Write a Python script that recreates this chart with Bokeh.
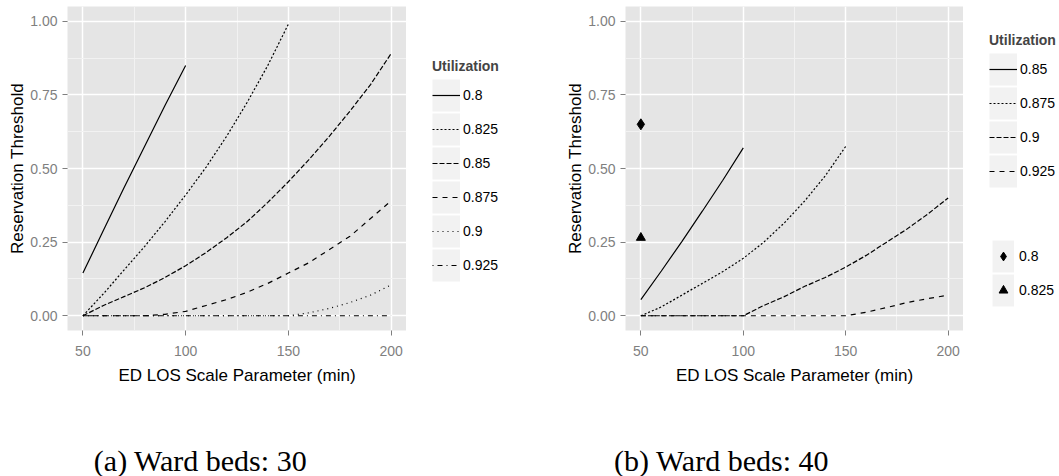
from bokeh.plotting import figure
from bokeh.layouts import row, column
from bokeh.models import Range1d, FixedTicker, Legend, LegendItem, Label
from bokeh.embed import file_html
from bokeh.resources import INLINE

# ---------------- data ----------------
# axis ticks
x_ticks = [50, 100, 150, 200]
x_minor = [75, 125, 175]
x_tick_labels = ["50", "100", "150", "200"]
y_ticks = [0.0, 0.25, 0.5, 0.75, 1.0]
y_minor = [0.125, 0.375, 0.625, 0.875]
y_tick_labels = ["0.00", "0.25", "0.50", "0.75", "1.00"]

# (a) Ward beds: 30
a_x_080 = [50, 60, 70, 80, 90, 100]
a_y_080 = [0.145, 0.29, 0.435, 0.575, 0.715, 0.85]
a_x_0825 = [50, 60, 70, 80, 90, 100, 110, 120, 130, 140, 150]
a_y_0825 = [0.0, 0.075, 0.155, 0.235, 0.32, 0.41, 0.505, 0.61, 0.725, 0.85, 0.99]
a_x_full = [50, 60, 70, 80, 90, 100, 110, 120, 130, 140, 150, 160, 170, 180, 190, 200]
a_y_085 = [0.0, 0.035, 0.065, 0.095, 0.13, 0.17, 0.215, 0.265, 0.32, 0.385, 0.455, 0.53, 0.61, 0.695, 0.785, 0.89]
a_y_0875 = [0.0, 0.0, 0.0, 0.0, 0.005, 0.015, 0.035, 0.055, 0.08, 0.11, 0.145, 0.18, 0.225, 0.27, 0.33, 0.39]
a_y_090 = [0.0, 0.0, 0.0, 0.0, 0.0, 0.0, 0.0, 0.0, 0.0, 0.0, 0.0, 0.01, 0.025, 0.045, 0.07, 0.105]
a_y_0925 = [0.0, 0.0, 0.0, 0.0, 0.0, 0.0, 0.0, 0.0, 0.0, 0.0, 0.0, 0.0, 0.0, 0.0, 0.0, 0.0]
a_labels = ["0.8", "0.825", "0.85", "0.875", "0.9", "0.925"]

# (b) Ward beds: 40
b_x_085 = [50, 60, 70, 80, 90, 100]
b_y_085 = [0.055, 0.152, 0.252, 0.355, 0.46, 0.57]
b_x_0875 = [50, 60, 70, 80, 90, 100, 110, 120, 130, 140, 150]
b_y_0875 = [0.0, 0.03, 0.07, 0.11, 0.15, 0.195, 0.25, 0.315, 0.39, 0.475, 0.575]
b_x_full = [50, 60, 70, 80, 90, 100, 110, 120, 130, 140, 150, 160, 170, 180, 190, 200]
b_y_090 = [0.0, 0.0, 0.0, 0.0, 0.0, 0.0, 0.035, 0.065, 0.1, 0.13, 0.165, 0.205, 0.25, 0.295, 0.345, 0.4]
b_y_0925 = [0.0, 0.0, 0.0, 0.0, 0.0, 0.0, 0.0, 0.0, 0.0, 0.0, 0.0, 0.012, 0.028, 0.045, 0.058, 0.07]
b_line_labels = ["0.85", "0.875", "0.9", "0.925"]
b_pt_x = [50, 50]
b_pt_y = [0.65, 0.265]
b_pt_labels = ["0.8", "0.825"]

captions = ["(a) Ward beds: 30", "(b) Ward beds: 40"]

SANS = "Liberation Sans"
SERIF = "Liberation Serif"
GREY = "#7F7F7F"
KEY_BG = "#F2F2F2"
TOP_H = 420
FRAME_BOTTOM = 330
LW = 1.2

# line styles per utilization level
a_dashes = ["solid", "2 2", "5 2", "5 5", "1 4", "1 4 5 4"]
b_dashes = ["solid", "2 2", "5 2", "5 5"]
b_markers = ["diamond", "triangle"]
b_sizes = [11, 9]


def make_fig(width, border_left):
    p = figure(width=width, height=TOP_H,
               x_range=Range1d(42.5, 207.5), y_range=Range1d(-0.05, 1.05),
               output_backend="svg", toolbar_location=None,
               min_border_left=border_left, min_border_right=0,
               min_border_top=6, min_border_bottom=TOP_H - FRAME_BOTTOM)
    p.background_fill_color = "#E5E5E5"
    p.border_fill_color = "white"
    p.outline_line_color = None
    p.xaxis.ticker = FixedTicker(ticks=x_ticks, minor_ticks=x_minor)
    p.yaxis.ticker = FixedTicker(ticks=y_ticks, minor_ticks=y_minor)
    p.xaxis.major_label_overrides = {t: s for t, s in zip(x_ticks, x_tick_labels)}
    p.yaxis.major_label_overrides = {t: s for t, s in zip(y_ticks, y_tick_labels)}
    for ax in (p.xaxis, p.yaxis):
        ax.axis_line_color = None
        ax.major_tick_line_color = GREY
        ax.major_tick_out = 5
        ax.major_tick_in = 0
        ax.minor_tick_line_color = None
        ax.major_label_text_color = GREY
        ax.major_label_text_font = SANS
        ax.major_label_text_font_size = "14px"
        ax.axis_label_text_font = SANS
        ax.axis_label_text_font_size = "17px"
        ax.axis_label_text_font_style = "normal"
        ax.axis_label_text_color = "black"
    p.xaxis.major_label_standoff = 10
    p.yaxis.major_label_standoff = 5
    p.xaxis.axis_label_standoff = 7
    p.yaxis.axis_label_standoff = 0
    p.xaxis.axis_label = "ED LOS Scale Parameter (min)"
    p.yaxis.axis_label = "Reservation Threshold"
    for g in (p.xgrid, p.ygrid):
        g.grid_line_color = "white"
        g.grid_line_width = 1.5
        g.minor_grid_line_color = "#F2F2F2"
        g.minor_grid_line_width = 1
    p.xgrid.ticker = p.xaxis.ticker
    p.ygrid.ticker = p.yaxis.ticker
    return p


def blank_fig(width, height):
    # a canvas for a legend; its (0..1) ranges keep the proxy glyphs out of view
    p = figure(width=width, height=height, x_range=Range1d(0, 1), y_range=Range1d(0, 1),
               output_backend="svg", toolbar_location=None,
               x_axis_location=None, y_axis_location=None,
               min_border=0, min_border_left=0, min_border_right=0,
               min_border_top=0, min_border_bottom=0)
    p.outline_line_color = None
    p.background_fill_color = "white"
    p.border_fill_color = "white"
    p.xgrid.visible = False
    p.ygrid.visible = False
    return p


def style_legend(lg, standoff=3, gw=28):
    lg.border_line_color = None
    lg.background_fill_alpha = 0
    lg.padding = 0
    lg.margin = 0
    lg.glyph_width = gw
    lg.glyph_height = 34
    lg.spacing = 0
    lg.label_standoff = standoff
    lg.label_text_font = SANS
    lg.label_text_font_size = "14px"
    lg.label_text_color = "black"
    lg.title_text_font = SANS
    lg.title_text_font_style = "bold"
    lg.title_text_font_size = "14px"
    lg.title_standoff = 4


def dash_kw(d):
    return {} if d == "solid" else {"line_dash": d}


# ---------------- panel (a) ----------------
pa = make_fig(406, 67)
a_series = [(a_x_080, a_y_080), (a_x_0825, a_y_0825), (a_x_full, a_y_085),
            (a_x_full, a_y_0875), (a_x_full, a_y_090), (a_x_full, a_y_0925)]
for (xs, ys), d in zip(a_series, a_dashes):
    pa.line(xs, ys, line_color="black", line_width=LW, **dash_kw(d))

# legend (a): its own canvas, with look-alike glyphs that stay outside its view
la = blank_fig(154, TOP_H)
bga = la.line(a_x_full, a_y_0925, line_color=KEY_BG, line_width=32, line_cap="butt")
la_r = [la.line(xs, ys, line_color="black", line_width=LW, **dash_kw(d))
        for (xs, ys), d in zip(a_series, a_dashes)]
lga = Legend(items=[LegendItem(label=l, renderers=[bga, r]) for l, r in zip(a_labels, la_r)],
             location=(26, FRAME_BOTTOM - 282), title="Utilization")
style_legend(lga)
la.add_layout(lga)

# ---------------- panel (b) ----------------
pb = make_fig(403, 65)
b_series = [(b_x_085, b_y_085), (b_x_0875, b_y_0875), (b_x_full, b_y_090), (b_x_full, b_y_0925)]
for (xs, ys), d in zip(b_series, b_dashes):
    pb.line(xs, ys, line_color="black", line_width=LW, **dash_kw(d))
for i in range(len(b_pt_x)):
    pb.scatter([b_pt_x[i]], [b_pt_y[i]], marker=b_markers[i], size=b_sizes[i], color="black")

lb = blank_fig(96, TOP_H)
bgb = lb.line(b_x_full, b_y_0925, line_color=KEY_BG, line_width=32, line_cap="butt")
lb_r = [lb.line(xs, ys, line_color="black", line_width=LW, **dash_kw(d))
        for (xs, ys), d in zip(b_series, b_dashes)]
lgb = Legend(items=[LegendItem(label=l, renderers=[bgb, r]) for l, r in zip(b_line_labels, lb_r)],
             location=(26, FRAME_BOTTOM - 188), title="Utilization")
style_legend(lgb)
lb.add_layout(lgb)
lb_s = [lb.scatter([b_pt_x[i]], [b_pt_y[i]], marker=b_markers[i], color="black")
        for i in range(len(b_pt_x))]
lgb2 = Legend(items=[LegendItem(label=l, renderers=[bgb, r]) for l, r in zip(b_pt_labels, lb_s)],
              location=(29, FRAME_BOTTOM - 307))
style_legend(lgb2, standoff=5, gw=22)
lb.add_layout(lgb2)

# ---------------- captions ----------------
cap = figure(width=1059, height=476 - TOP_H, x_range=Range1d(0, 1059), y_range=Range1d(0, 476 - TOP_H),
             output_backend="svg", toolbar_location=None,
             x_axis_location=None, y_axis_location=None,
             min_border=0, min_border_left=0, min_border_right=0,
             min_border_top=0, min_border_bottom=0)
cap.outline_line_color = None
cap.background_fill_color = "white"
cap.xgrid.visible = False
cap.ygrid.visible = False
for txt, cx in zip(captions, [200, 721]):
    cap.add_layout(Label(x=cx, y=476 - 460, x_units="screen", y_units="screen", text=txt,
                         text_align="center", text_baseline="middle",
                         text_font=SERIF, text_font_size="30px", text_color="black"))

layout = column(row(pa, la, pb, lb), cap)
open("out.html", "w").write(file_html(layout, INLINE))
